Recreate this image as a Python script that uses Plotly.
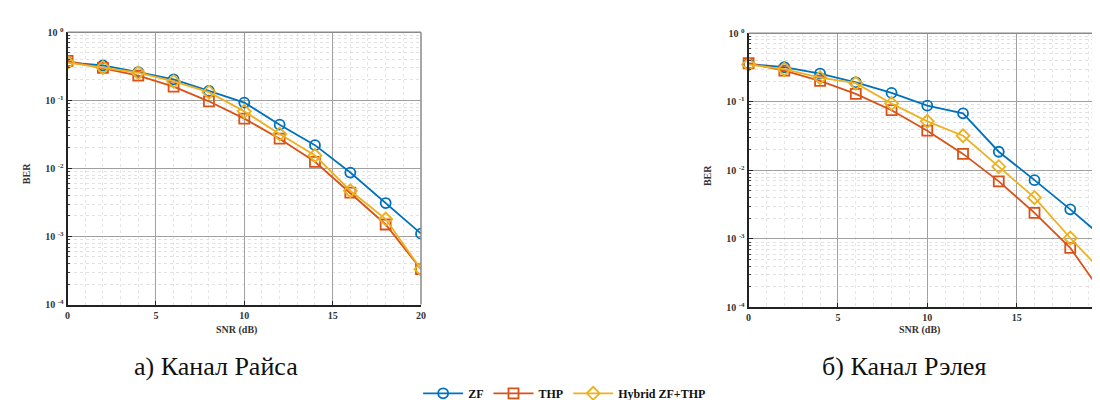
import plotly.graph_objects as go

snr = [0, 2, 4, 6, 8, 10, 12, 14, 16, 18, 20]

# Rician channel (left)
rice_zf = [0.363, 0.326, 0.26, 0.204, 0.138, 0.093, 0.044, 0.022, 0.0087, 0.0031, 0.0011]
rice_thp = [0.38, 0.30, 0.232, 0.159, 0.097, 0.054, 0.0274, 0.0125, 0.0044, 0.0015, 0.00033]
rice_hyb = [0.36, 0.305, 0.255, 0.19, 0.132, 0.069, 0.032, 0.0155, 0.0047, 0.0018, 0.00033]

# Rayleigh channel (right)
ray_zf = [0.358, 0.32, 0.259, 0.193, 0.135, 0.088, 0.068, 0.0187, 0.0072, 0.0027, 0.00096]
ray_thp = [0.366, 0.285, 0.202, 0.131, 0.0755, 0.038, 0.0174, 0.0069, 0.0024, 0.00074, 0.000134]
ray_hyb = [0.35, 0.30, 0.225, 0.187, 0.0946, 0.052, 0.032, 0.0113, 0.004, 0.00103, 0.00029]

series_names = ["ZF", "THP", "Hybrid ZF+THP"]
colors = ["#0072BD", "#D95319", "#EDB120"]
symbols = ["circle-open", "square-open", "diamond-open"]

x_ticks = [0, 5, 10, 15, 20]
y_tickvals = [1e-4, 1e-3, 1e-2, 1e-1, 1]
y_ticktext = ["10 <sup>-4</sup>", "10 <sup>-3</sup>", "10 <sup>-2</sup>", "10 <sup>-1</sup>", "10 <sup>0</sup>"]
y_minor = [m * 10 ** e for e in range(-4, 0) for m in range(2, 10)]

titles = ["а) Канал Райса", "б) Канал Рэлея"]

FONT = "'Liberation Serif', 'Times New Roman', 'DejaVu Serif', serif"
W, H = 1100, 400

fig = go.Figure()

panels = [
    (rice_zf, rice_thp, rice_hyb, "x", "y"),
    (ray_zf, ray_thp, ray_hyb, "x2", "y2"),
]
for pi, (zf, thp, hyb, xa, ya) in enumerate(panels):
    for si, vals in enumerate([zf, thp, hyb]):
        fig.add_trace(go.Scatter(
            x=snr, y=vals, mode="lines+markers", name=series_names[si],
            line=dict(color=colors[si], width=1.8),
            marker=dict(symbol=symbols[si], size=10, color=colors[si],
                        line=dict(width=1.8, color=colors[si])),
            xaxis=xa, yaxis=ya, showlegend=(pi == 0),
            cliponaxis=(pi == 0),
        ))

# Domains in pixels
left_x = (57, 413)
right_x = (743, 1103)
left_y = (18, 300)
right_y = (19, 303)

def xaxis_cfg(px, rng):
    return dict(
        domain=[px[0] / W, min(px[1] / W, 1.0)], range=rng, tickvals=x_ticks,
        showline=True, linecolor="#222", linewidth=2, ticks="inside", ticklen=4,
        tickcolor="#222", tickfont=dict(family=FONT, size=10, color="#333", weight="bold"),
        showgrid=True, gridcolor="#a0a0a0", gridwidth=1, zeroline=False,
        minor=dict(dtick=1, showgrid=True, gridcolor="#e6e6e6", griddash="dot", gridwidth=1, ticks=""),
    )

def yaxis_cfg(py, anchor):
    return dict(
        domain=[1 - py[1] / H, 1 - py[0] / H], type="log", range=[-4, 0],
        tickvals=y_tickvals, ticktext=y_ticktext, anchor=anchor,
        showline=True, linecolor="#222", linewidth=2, ticks="inside", ticklen=4,
        tickcolor="#222", tickfont=dict(family=FONT, size=10, color="#333", weight="bold"),
        showgrid=True, gridcolor="#a0a0a0", gridwidth=1, zeroline=False,
        minor=dict(tickvals=y_minor, showgrid=True, gridcolor="#e2e2e2", griddash="dot", gridwidth=1,
                   ticks="inside", ticklen=2, tickcolor="#444"),
    )

right_range = [0, 20 * (W - right_x[0]) / (right_x[1] - right_x[0])]

fig.update_layout(
    width=W, height=H, margin=dict(l=0, r=0, t=0, b=0),
    paper_bgcolor="white", plot_bgcolor="white",
    xaxis=dict(xaxis_cfg(left_x, [0, 20]), anchor="y"),
    yaxis=yaxis_cfg(left_y, "x"),
    xaxis2=dict(xaxis_cfg(right_x, right_range), anchor="y2"),
    yaxis2=yaxis_cfg(right_y, "x2"),
    legend=dict(orientation="h", x=0.507, xanchor="center", y=1 - 392 / H, yanchor="middle",
                font=dict(family=FONT, size=12, color="#111", weight="bold"),
                itemwidth=40, tracegroupgap=0, bgcolor="rgba(0,0,0,0)"),
    showlegend=True,
)

# top/right frame lines (gray)
shapes = []
shapes.append(dict(type="line", xref="x domain", yref="y domain", x0=0, x1=1, y0=1, y1=1,
                   line=dict(color="#8a8a8a", width=1.5)))
shapes.append(dict(type="line", xref="x domain", yref="y domain", x0=1, x1=1, y0=0, y1=1,
                   line=dict(color="#8a8a8a", width=1.5)))
shapes.append(dict(type="line", xref="x2 domain", yref="y2 domain", x0=0, x1=1, y0=1, y1=1,
                   line=dict(color="#8a8a8a", width=1.5)))
fig.update_layout(shapes=shapes)

ann = []
# axis labels
for cx, cy in [((left_x[0] + left_x[1]) / 2 - 8, 326), ((right_x[0] + right_x[1]) / 2 - 8, 326)]:
    ann.append(dict(text="SNR (dB)", x=cx / W, y=1 - cy / H, xref="paper", yref="paper",
                    showarrow=False, xanchor="center", yanchor="middle",
                    font=dict(family=FONT, size=10, color="#333", weight="bold")))
for bx, by in [(15, 164), (701, 166)]:
    ann.append(dict(text="BER", x=bx / W, y=1 - by / H, xref="paper", yref="paper",
                    showarrow=False, xanchor="center", yanchor="middle", textangle=-90,
                    font=dict(family=FONT, size=10, color="#333", weight="bold")))
# panel captions
for t, cx in zip(titles, [206, 900]):
    ann.append(dict(text=t, x=cx / W, y=1 - 364 / H, xref="paper", yref="paper",
                    showarrow=False, xanchor="center", yanchor="middle",
                    font=dict(family=FONT, size=26, color="#111")))
# partially visible "20" tick label on the clipped right panel
ann.append(dict(text="20", x=right_x[1] / W, y=1 - 309 / H, xref="paper", yref="paper",
                showarrow=False, xanchor="center", yanchor="middle",
                font=dict(family=FONT, size=10, color="#333", weight="bold")))
fig.update_layout(annotations=ann)

fig.write_html("out.html")
